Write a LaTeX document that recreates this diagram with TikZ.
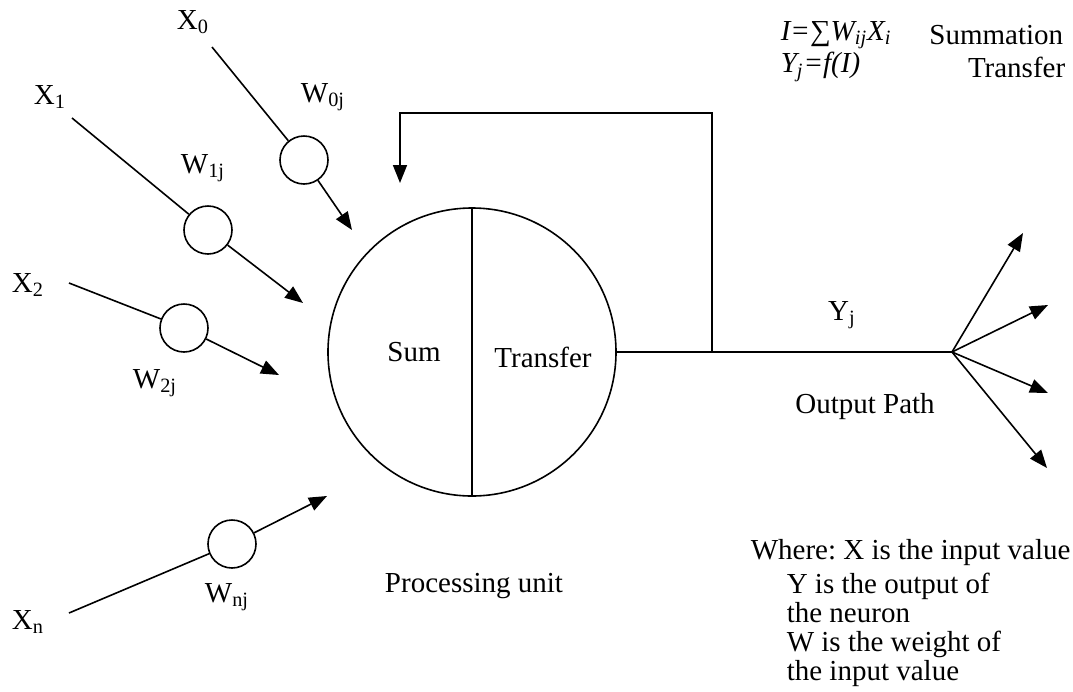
\documentclass[tikz,border=0pt]{standalone}
\usepackage{fontspec}
\setmainfont{Liberation Serif}
\usetikzlibrary{arrows.meta,positioning}
\tikzset{
  >={Triangle[length=9pt,width=7pt]},
  neuron/.style={draw, circle, minimum size=144pt, inner sep=0pt},
  weight/.style={draw, circle, minimum size=24pt, inner sep=0pt},
  lbl/.style={inner sep=1pt},
}

\begin{document}
\frenchspacing
\begin{tikzpicture}[x=0.5pt, y=-0.5pt, line width=0.8pt,
    font=\fontsize{14.5}{14.5}\selectfont]
  \useasboundingbox (0,0) rectangle (1073,692);

  % processing unit
  \node[neuron] (unit) at (472,352) {};
  \draw (unit.north) -- (unit.south);
  \node[lbl] (sum) at (414,352) {Sum};
  \node[lbl] (transfer) at (543,357) {Transfer};
  \node[lbl] (proc) at (474,586) {Processing unit};

  % inputs and weights
  \node[lbl] (x0) at (193,22) {X\textsubscript{0}};
  \node[lbl] (x1) at (50,97) {X\textsubscript{1}};
  \node[lbl] (x2) at (28,285) {X\textsubscript{2}};
  \node[lbl] (xn) at (28,622) {X\textsubscript{n}};
  \coordinate (s0) at (212,47);
  \coordinate (s1) at (72,118);
  \coordinate (s2) at (69,283);
  \coordinate (sn) at (69,613);
  \node[weight] (w0) at (304,160) {};
  \node[weight] (w1) at (208,230) {};
  \node[weight] (w2) at (184,328) {};
  \node[weight] (wn) at (232,544) {};
  \node[lbl] (w0lbl) at (323,97) {W\textsubscript{0j}};
  \node[lbl] (w1lbl) at (203,168) {W\textsubscript{1j}};
  \node[lbl] (w2lbl) at (155,383) {W\textsubscript{2j}};
  \node[lbl] (wnlbl) at (227,597) {W\textsubscript{nj}};
  \coordinate (t0) at (352,230);
  \coordinate (t1) at (303,303);
  \coordinate (t2) at (279,375);
  \coordinate (tn) at (327,496);

  \draw (s0) -- (w0);
  \draw (s1) -- (w1);
  \draw (s2) -- (w2);
  \draw (sn) -- (wn);
  \draw[->] (w0) -- (t0);
  \draw[->] (w1) -- (t1);
  \draw[->] (w2) -- (t2);
  \draw[->] (wn) -- (tn);

  % output path and feedback
  \coordinate (fan) at (952,352);
  \coordinate (fb) at (712,352);
  \coordinate (fbtop) at (400,113);
  \coordinate (fbtip) at (400,183);
  \draw (unit.east) -- (fan);
  \draw[->] (fb) |- (fbtop) -- (fbtip);
  \coordinate (o1) at (1023,233);
  \coordinate (o2) at (1048,305);
  \coordinate (o3) at (1048,393);
  \coordinate (o4) at (1047,468);
  \draw[->] (fan) -- (o1);
  \draw[->] (fan) -- (o2);
  \draw[->] (fan) -- (o3);
  \draw[->] (fan) -- (o4);
  \node[lbl] (yj) at (842,315) {Y\textsubscript{j}};
  \node[lbl] (outpath) at (865,407) {Output Path};

  % formulas
  \node[lbl, anchor=west] (sumeq) at (778,35) {\textit{I=∑W\textsubscript{ij}X\textsubscript{i}}};
  \node[lbl, anchor=east] (sumtxt) at (1066,35) {Summation};
  \node[lbl, anchor=west] (treq) at (778,67) {\textit{Y\textsubscript{j}=f(I)}};
  \node[lbl, anchor=east] (trtxt) at (1068,67) {Transfer};

  % legend
  \node[lbl, anchor=west] (where) at (748,553) {Where: X is the input value};
  \node[lbl, anchor=north west, align=left] (notes) at (784,570)
    {Y is the output of\\the neuron\\W is the weight of\\the input value};
\end{tikzpicture}
\end{document}
